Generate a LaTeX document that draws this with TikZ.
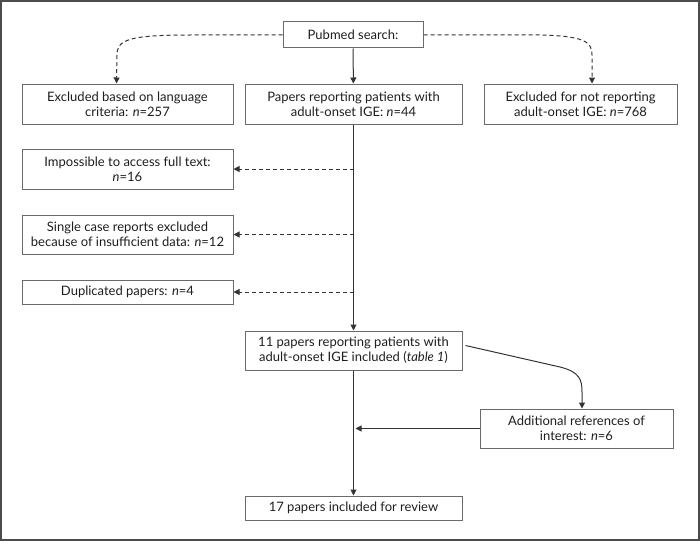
\documentclass[tikz,border=0pt]{standalone}
\usepackage{fontspec}
\setmainfont{Lato}
\usetikzlibrary{arrows.meta,calc}
\definecolor{boxline}{HTML}{6A6A6A}
\definecolor{arrline}{HTML}{333333}
\definecolor{txt}{HTML}{1E1E1E}
\begin{document}
\begin{tikzpicture}[x=1pt,y=-1pt,
  box/.style={draw=boxline,line width=1pt,inner sep=0pt,align=center,text=txt,
    font=\fontsize{13}{15}\selectfont},
  arr/.style={draw=arrline,line width=1pt,-{Triangle[length=6pt,width=6pt]}},
  darr/.style={arr,dash pattern=on 4pt off 3pt}]
\useasboundingbox (0,0) rectangle (700,543);
\draw[line width=1.3pt,draw=black!70] (1,1) rectangle (699,540);
\node[box,minimum width=140pt,minimum height=26pt] (pub) at (353,35) {Pubmed search:};
\node[box,minimum width=211pt,minimum height=40pt] (lang) at (127.5,104) {Excluded based on language\\criteria: \textit{n}=257};
\node[box,minimum width=217pt,minimum height=40pt] (rep) at (353.5,104) {Papers reporting patients with\\adult-onset IGE: \textit{n}=44};
\node[box,minimum width=193pt,minimum height=40pt] (notrep) at (580.5,104) {Excluded for not reporting\\adult-onset IGE: \textit{n}=768};
\node[box,minimum width=211pt,minimum height=40pt] (imp) at (127.5,169) {Impossible to access full text:\\\textit{n}=16};
\node[box,minimum width=211pt,minimum height=39pt] (single) at (127.5,234.5) {Single case reports excluded\\because of insufficient data: \textit{n}=12};
\node[box,minimum width=211pt,minimum height=24pt] (dup) at (127.5,292) {Duplicated papers: \textit{n}=4};
\node[box,minimum width=217pt,minimum height=39pt] (eleven) at (353.5,350.5) {11 papers reporting patients with\\adult-onset IGE included (\textit{table 1})};
\node[box,minimum width=193pt,minimum height=39pt] (add) at (576.5,428.5) {Additional references of\\interest: \textit{n}=6};
\node[box,minimum width=217pt,minimum height=24pt] (sev) at (353.5,508) {17 papers included for review};
% top arrows
\draw[arr] (pub) -- (rep);
\coordinate (lt) at ($(lang.north)+(-11,0)$);
\coordinate (rt) at ($(notrep.north)+(11.5,0)$);
\draw[darr] (pub.west) -- (190,35) .. controls (128,35) and (117,40) .. (117,55) -- (lt);
\draw[darr] (pub.east) -- (540,35) .. controls (585,36) and (592,42) .. (592,55) -- (rt);
% main line
\draw[arr] (rep) -- (eleven);
\draw[arr] (eleven) -- (sev);
\coordinate (m1) at (rep.south |- imp.east);
\coordinate (m2) at (rep.south |- single.east);
\coordinate (m3) at (rep.south |- dup.east);
\draw[darr] (m1) -- (imp.east);
\draw[darr] (m2) -- (single.east);
\draw[darr] (m3) -- (dup.east);
% additional
\coordinate (cs) at ($(eleven.east)+(3,-5)$);
\coordinate (ce) at ($(add.north)+(5.5,0)$);
\draw[arr] (cs) -- (560,367) .. controls (580,372) and (582,380) .. (582,392) -- (ce);
\coordinate (m4) at ($(rep.south |- add.west)+(2,0)$);
\draw[arr] (add.west) -- (m4);
\end{tikzpicture}
\end{document}
